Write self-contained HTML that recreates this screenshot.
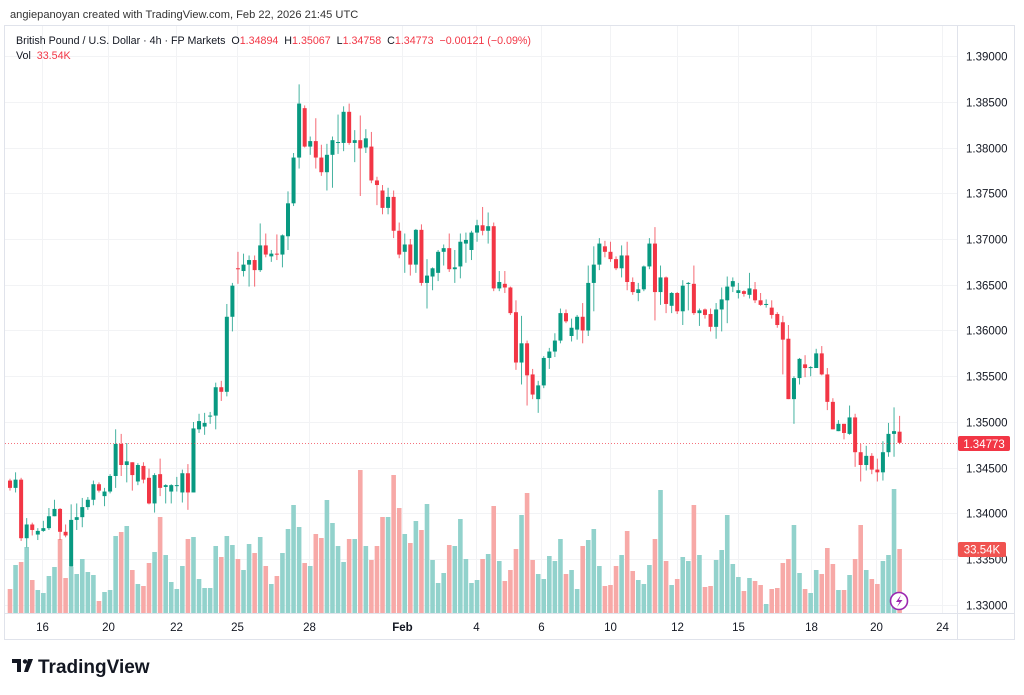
<!DOCTYPE html>
<html><head><meta charset="utf-8"><style>
html,body{margin:0;padding:0;background:#fff;width:1024px;height:695px;overflow:hidden;font-family:"Liberation Sans",sans-serif}
svg{position:absolute;left:0;top:0}
</style></head><body>
<svg id="chart" width="1024" height="695">
<text x="10" y="18" font-size="11.1" fill="#333">angiepanoyan created with TradingView.com, Feb 22, 2026 21:45 UTC</text>
<rect x="4.5" y="25.5" width="1010" height="614" fill="none" stroke="#e0e3eb"/>
<g id="grid"></g>
<g id="vols"></g>
<g id="candles"></g>
<g id="axes"></g>
<g font-size="10.7">
<text x="16" y="44" fill="#131722" xml:space="preserve">British Pound / U.S. Dollar · 4h · FP Markets  O<tspan fill="#f23645">1.34894</tspan>  H<tspan fill="#f23645">1.35067</tspan>  L<tspan fill="#f23645">1.34758</tspan>  C<tspan fill="#f23645">1.34773</tspan>  <tspan fill="#f23645">−0.00121 (−0.09%)</tspan></text>
<text x="16" y="59" fill="#131722" xml:space="preserve">Vol  <tspan fill="#f23645">33.54K</tspan></text>
</g>
<g><circle cx="899" cy="601" r="8.5" fill="#fff" stroke="#9c27b0" stroke-width="1.6"/><path d="M901 595 L896 602 L899.5 602 L897 607 L902.5 600 L899 600 Z" fill="#9c27b0"/></g>
<g><path d="M12 659 h9 v13 h-4 v-9 h-5 z" fill="#131722"/><circle cx="25" cy="661.5" r="2.2" fill="#131722"/><path d="M28 659 h5 l-5 13 h-4 z" fill="#131722"/>
<text x="38" y="673" font-size="19" font-weight="bold" fill="#131722">TradingView</text></g>
</svg>
<script>
const opens=[1.3436,1.3428,1.3437,1.3373,1.3388,1.3377,1.3381,1.3384,1.3397,1.3405,1.3380,1.3342,1.3393,1.3396,1.3407,1.3415,1.3432,1.3419,1.3424,1.3441,1.3476,1.3453,1.3456,1.3435,1.3452,1.3439,1.3411,1.3443,1.3429,1.3424,1.3431,1.3423,1.3444,1.3423,1.3492,1.3495,1.3506,1.3507,1.3538,1.3533,1.3615,1.3668,1.3665,1.3672,1.3677,1.3666,1.3693,1.3681,1.3684,1.3683,1.3703,1.3739,1.3789,1.3843,1.3801,1.3807,1.3789,1.3773,1.3792,1.3805,1.3805,1.3839,1.3805,1.3808,1.3800,1.3801,1.3764,1.3753,1.3734,1.3746,1.3709,1.3686,1.3694,1.3672,1.3710,1.3652,1.3659,1.3663,1.3686,1.3690,1.3667,1.3670,1.3695,1.3688,1.3707,1.3715,1.3709,1.3714,1.3646,1.3651,1.3647,1.3620,1.3565,1.3586,1.3552,1.3525,1.3540,1.3570,1.3577,1.3589,1.3619,1.3594,1.3601,1.3615,1.3600,1.3652,1.3672,1.3692,1.3686,1.3678,1.3668,1.3682,1.3653,1.3641,1.3645,1.3670,1.3695,1.3642,1.3658,1.3627,1.3641,1.3621,1.3651,1.3651,1.3619,1.3623,1.3618,1.3604,1.3623,1.3633,1.3648,1.3641,1.3643,1.3639,1.3645,1.3633,1.3628,1.3625,1.3618,1.3609,1.3591,1.3525,1.3548,1.3563,1.3559,1.3559,1.3575,1.3552,1.3522,1.3490,1.3498,1.3487,1.3505,1.3467,1.3453,1.3463,1.3448,1.3445,1.3467,1.3487,1.34894];
const highs=[1.3438,1.3445,1.3439,1.3395,1.3390,1.3384,1.3392,1.3406,1.3415,1.3406,1.3388,1.3410,1.3411,1.3417,1.3418,1.3436,1.3434,1.3428,1.3443,1.3492,1.3487,1.3477,1.3456,1.3455,1.3456,1.3449,1.3444,1.3460,1.3432,1.3432,1.3440,1.3448,1.3454,1.3500,1.3509,1.3510,1.3511,1.3543,1.3545,1.3629,1.3652,1.3686,1.3684,1.3682,1.3682,1.3717,1.3706,1.3688,1.3705,1.3705,1.3752,1.3794,1.3869,1.3846,1.3812,1.3832,1.3803,1.3804,1.3812,1.3836,1.3845,1.3848,1.3819,1.3835,1.3820,1.3817,1.3768,1.3759,1.3756,1.3753,1.3718,1.3706,1.3700,1.3711,1.3716,1.3678,1.3669,1.3688,1.3694,1.3706,1.3688,1.3706,1.3707,1.3709,1.3721,1.3735,1.3729,1.3718,1.3665,1.3665,1.3648,1.3633,1.3616,1.3589,1.3558,1.3545,1.3572,1.3581,1.3597,1.3624,1.3623,1.3613,1.3617,1.3630,1.3671,1.3692,1.3701,1.3698,1.3697,1.3681,1.3693,1.3697,1.3658,1.3652,1.3671,1.3701,1.3713,1.3671,1.3659,1.3642,1.3642,1.3655,1.3653,1.3671,1.3624,1.3624,1.3624,1.3630,1.3647,1.3659,1.3658,1.3652,1.3644,1.3663,1.3653,1.3641,1.3634,1.3633,1.3620,1.3616,1.3606,1.3550,1.3570,1.3573,1.3561,1.3580,1.3583,1.3559,1.3526,1.3502,1.3498,1.3518,1.3509,1.3476,1.3474,1.3466,1.3460,1.3479,1.3499,1.3516,1.35067];
const lows=[1.3425,1.3423,1.3370,1.3363,1.3376,1.3371,1.3380,1.3382,1.3397,1.3371,1.3374,1.3342,1.3382,1.3385,1.3404,1.3409,1.3423,1.3408,1.3422,1.3428,1.3441,1.3434,1.3425,1.3431,1.3433,1.3410,1.3401,1.3419,1.3411,1.3411,1.3424,1.3412,1.3404,1.3423,1.3488,1.3486,1.3498,1.3492,1.3523,1.3528,1.3599,1.3651,1.3659,1.3648,1.3648,1.3664,1.3680,1.3675,1.3677,1.3669,1.3688,1.3736,1.3777,1.3800,1.3792,1.3777,1.3769,1.3753,1.3756,1.3793,1.3796,1.3803,1.3784,1.3747,1.3794,1.3761,1.3737,1.3727,1.3727,1.3701,1.3679,1.3663,1.3660,1.3663,1.3649,1.3624,1.3644,1.3654,1.3671,1.3664,1.3652,1.3657,1.3674,1.3677,1.3697,1.3704,1.3695,1.3643,1.3643,1.3641,1.3617,1.3557,1.3541,1.3518,1.3525,1.3510,1.3537,1.3558,1.3571,1.3586,1.3608,1.3588,1.3590,1.3586,1.3594,1.3621,1.3666,1.3680,1.3675,1.3666,1.3658,1.3644,1.3639,1.3632,1.3643,1.3667,1.3611,1.3628,1.3619,1.3619,1.3618,1.3606,1.3622,1.3617,1.3605,1.3613,1.3599,1.3591,1.3599,1.3608,1.3642,1.3635,1.3637,1.3635,1.3630,1.3627,1.3625,1.3613,1.3603,1.3552,1.3525,1.3498,1.3541,1.3549,1.3550,1.3559,1.3551,1.3513,1.3492,1.3490,1.3481,1.3486,1.3451,1.3435,1.3447,1.3443,1.3435,1.3436,1.3462,1.3462,1.34758];
const closes=[1.3428,1.3437,1.3373,1.3388,1.3382,1.3381,1.3384,1.3397,1.3405,1.3380,1.3376,1.3393,1.3396,1.3407,1.3415,1.3432,1.3425,1.3424,1.3441,1.3476,1.3453,1.3457,1.3442,1.3453,1.3437,1.3411,1.3442,1.3428,1.3431,1.3431,1.3431,1.3444,1.3423,1.3493,1.3501,1.3499,1.3507,1.3538,1.3533,1.3615,1.3649,1.3667,1.3672,1.3677,1.3666,1.3693,1.3683,1.3684,1.3683,1.3704,1.3739,1.3789,1.3848,1.3801,1.3807,1.3789,1.3773,1.3792,1.3808,1.3806,1.3839,1.3805,1.3808,1.3799,1.3810,1.3764,1.3759,1.3734,1.3746,1.3709,1.3683,1.3694,1.3672,1.3710,1.3652,1.3660,1.3668,1.3686,1.3690,1.3667,1.3669,1.3697,1.3699,1.3707,1.3715,1.3709,1.3714,1.3646,1.3653,1.3647,1.3619,1.3565,1.3586,1.3551,1.3530,1.3540,1.3570,1.3577,1.3589,1.3619,1.3610,1.3603,1.3615,1.3600,1.3652,1.3672,1.3695,1.3686,1.3678,1.3668,1.3682,1.3653,1.3642,1.3645,1.3670,1.3695,1.3642,1.3658,1.3629,1.3641,1.3621,1.3649,1.3652,1.3619,1.3622,1.3617,1.3604,1.3623,1.3634,1.3648,1.3654,1.3644,1.3640,1.3646,1.3633,1.3628,1.3629,1.3617,1.3606,1.3590,1.3525,1.3548,1.3569,1.3559,1.3560,1.3575,1.3552,1.3522,1.3492,1.3498,1.3488,1.3505,1.3467,1.3453,1.3463,1.3448,1.3445,1.3467,1.3487,1.3490,1.34773];
const volumes=[24,48,51,66,33,23,20,37,46,74,35,46,39,54,41,38,12,21,23,77,81,87,43,29,27,50,61,96,58,31,24,47,74,76,34,25,25,67,56,77,68,54,43,69,60,76,47,29,37,60,84,108,86,50,47,79,75,113,90,67,51,74,74,143,67,53,67,96,96,138,105,79,70,92,83,109,53,30,40,68,67,94,54,30,33,54,59,107,52,32,43,64,98,120,53,39,34,57,52,74,39,43,24,67,73,84,47,27,28,47,58,82,42,33,29,48,74,123,52,28,34,56,52,108,58,26,27,53,63,98,49,36,22,35,32,28,9,24,25,50,54,88,40,24,20,43,39,65,49,23,23,38,54,88,43,34,29,52,58,124,64];
const priceTicks=[1.39,1.385,1.38,1.375,1.37,1.365,1.36,1.355,1.35,1.345,1.34,1.335,1.33];
const dateLabels=["16","20","22","25","28","Feb","4","6","10","12","15","18","20","24"];
const dateIndex=[5.75,17.6,29.9,40.8,53.8,70.5,83.8,95.5,107.9,120,130.9,144,155.7,167.6];

const NS="http://www.w3.org/2000/svg";
const yP=p=>56+(1.39-p)/0.005*45.75;
const xI=i=>10+5.56*i;
const yV=v=>613-v;
function mk(tag,attrs,parent){const e=document.createElementNS(NS,tag);for(const k in attrs)e.setAttribute(k,attrs[k]);parent.appendChild(e);return e;}
const grid=document.getElementById('grid'),axes=document.getElementById('axes'),cg=document.getElementById('candles'),vg=document.getElementById('vols');
priceTicks.forEach(p=>{
  const y=Math.round(yP(p))+0.5;
  const l=mk('line',{x1:5,x2:957,y1:y,y2:y,stroke:'#f2f3f5'},grid);
  
  
  const t=mk('text',{x:966,y:y+4,'font-size':'11.5',fill:'#131722'},axes);
  t.textContent=p.toFixed(5);
  
  
});
dateLabels.forEach((d,k)=>{
  const x=Math.round(xI(dateIndex[k]))+0.5;
  const l=mk('line',{x1:x,x2:x,y1:26,y2:613,stroke:'#f2f3f5'},grid);
  
  
  const t=mk('text',{x:x,y:631,'font-size':'11.5',fill:'#131722','text-anchor':'middle','font-weight':d==='Feb'?'bold':'normal'},axes);
  t.textContent=d;
  
  
});
mk('line',{x1:957.5,x2:957.5,y1:26,y2:639,stroke:'#e0e3eb'},axes);
mk('line',{x1:5,x2:1014,y1:613.5,y2:613.5,stroke:'#e0e3eb'},axes);
volumes.forEach((v,i)=>{
  const up=closes[i]>=opens[i];
  const r=mk('rect',{x:xI(i)-2.3,y:yV(v),width:4.6,height:v,fill:up?'#92d2cc':'#f7a9a7'},vg);
  
  
});
closes.forEach((c,i)=>{
  const o=opens[i],up=c>=o,col=up?'#089981':'#f23645',x=xI(i);
  const w=mk('line',{x1:x,x2:x,y1:yP(highs[i]),y2:yP(lows[i]),stroke:col,'stroke-width':1,opacity:0.75},cg);
  
  
  const t=Math.min(yP(o),yP(c)),h=Math.max(1,Math.abs(yP(o)-yP(c)));
  const b=mk('rect',{x:x-2,y:t,width:4,height:h,fill:col},cg);
  
  
});
const last=closes[closes.length-1],ly=Math.round(yP(last))+0.5;
const pl=mk('line',{x1:5,x2:957,y1:ly,y2:ly,stroke:'#f23645','stroke-dasharray':'1 2','stroke-width':1,opacity:0.7},axes);


const pb=mk('rect',{x:958,y:ly-7.5,width:52,height:15,rx:2,fill:'#f23645'},axes);


const pt=mk('text',{x:984,y:ly+4.5,'font-size':'11.5',fill:'#fff','text-anchor':'middle'},axes);
pt.textContent=last.toFixed(5);


const vy=yV(volumes[volumes.length-1]);
const vb=mk('rect',{x:958,y:vy-7,width:48,height:15,rx:2,fill:'#f05350'},axes);


const vt=mk('text',{x:982,y:vy+4.5,'font-size':'11.5',fill:'#fff','text-anchor':'middle'},axes);
vt.textContent='33.54K';


</script>
</body></html>
